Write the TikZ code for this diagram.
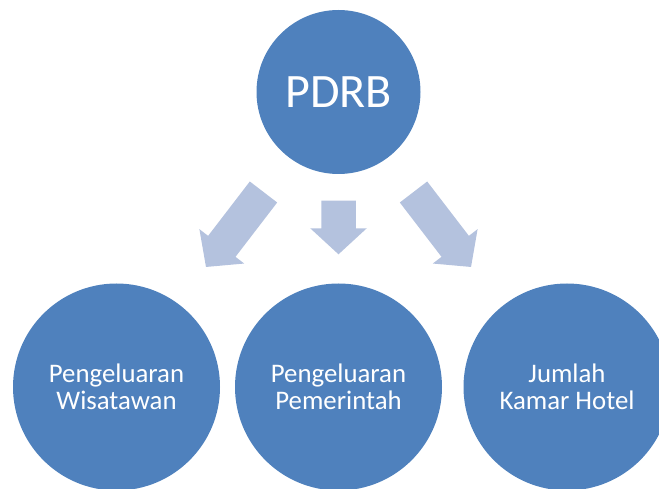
\documentclass[tikz,border=0pt]{standalone}
\usepackage{fontspec}
\setmainfont{Carlito}
\definecolor{circleblue}{RGB}{79,129,189}
\definecolor{arrowblue}{RGB}{180,194,222}
\begin{document}
\begin{tikzpicture}[x=1pt,y=1pt,
  bubble/.style={circle,fill=circleblue,draw=none,inner sep=0pt,
    text=white,align=center},
  topbubble/.style={bubble,minimum size=164pt,font=\fontsize{48}{50}\selectfont},
  lowbubble/.style={bubble,minimum size=207pt,font=\fontsize{26.8}{27}\selectfont},
  pics/blockarrow/.style={code={
    % shaft 34.5 wide, head 56.5 wide and 26 long
    \fill[arrowblue] (0,17.25) -- ({#1-26},17.25) -- ({#1-26},28.25)
      -- (#1,0) -- ({#1-26},-28.25) -- ({#1-26},-17.25) -- (0,-17.25) -- cycle;
  }}]
\useasboundingbox (0,0) rectangle (659,-489);

\node[topbubble] (pdrb) at (338.5,-92) {PDRB};

\begin{scope}
\clip (0,0) rectangle (659,-489);
\node[lowbubble] (wisatawan) at (116.5,-387) {Pengeluaran\\Wisatawan};
\node[lowbubble] (pemerintah) at (338.5,-387) {Pengeluaran\\Pemerintah};
\node[lowbubble] (hotel) at (567,-387) {Jumlah\\Kamar Hotel};
\end{scope}

% block arrows from PDRB down to the three factors
\pic[rotate=232.5] at (263.5,-192) {blockarrow=94.5};
\pic[rotate=-90] at (338.5,-200.7) {blockarrow=53.6};
\pic[rotate=-52.5] at (413.5,-192) {blockarrow=94.5};
\end{tikzpicture}
\end{document}
